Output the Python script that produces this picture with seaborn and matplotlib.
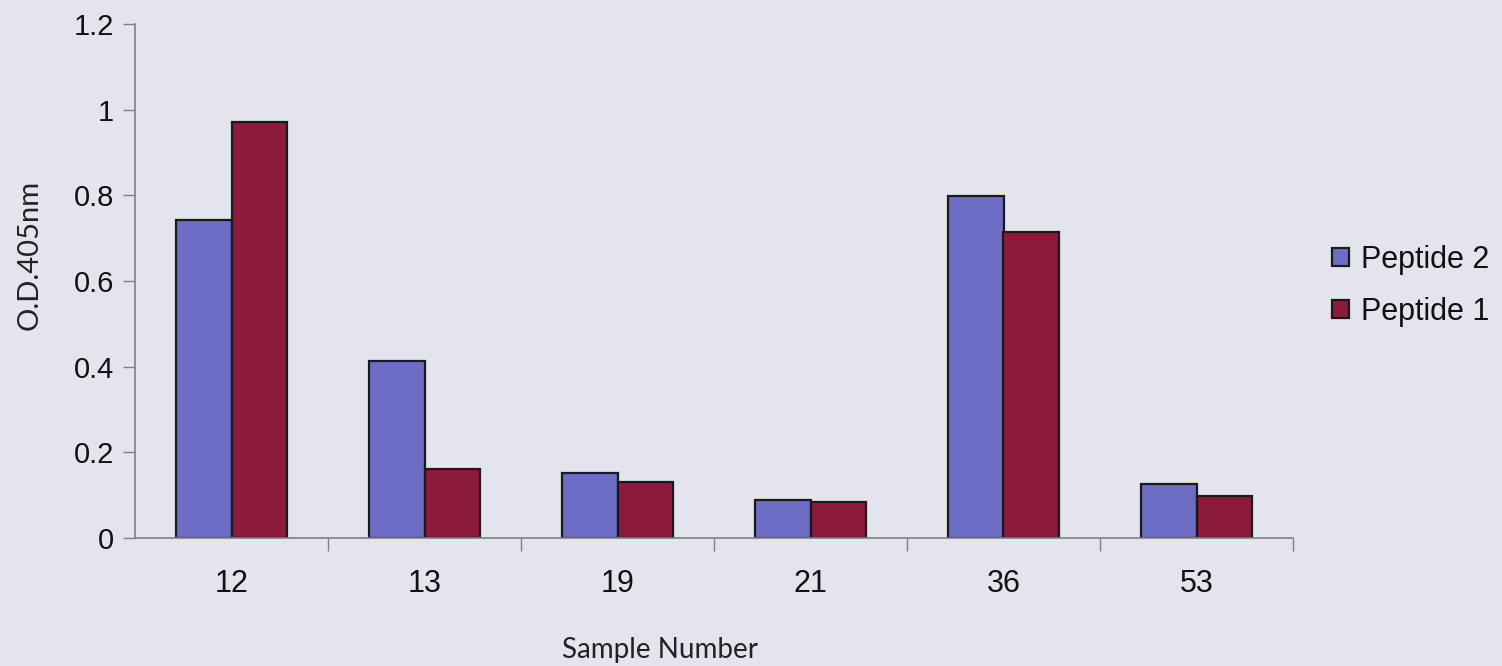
import matplotlib
matplotlib.use("Agg")
import matplotlib.pyplot as plt
import seaborn as sns
import pandas as pd
import numpy as np

samples = ["12", "13", "19", "21", "36", "53"]
peptide2 = [0.742, 0.414, 0.152, 0.088, 0.798, 0.127]
peptide1 = [0.972, 0.160, 0.131, 0.083, 0.715, 0.099]
series = ["Peptide 2", "Peptide 1"]
y_ticks = [0, 0.2, 0.4, 0.6, 0.8, 1.0, 1.2]
y_tick_labels = ["0", "0.2", "0.4", "0.6", "0.8", "1", "1.2"]

df = pd.DataFrame({
    "Sample": samples * 2,
    "OD": peptide2 + peptide1,
    "Peptide": [series[0]] * len(samples) + [series[1]] * len(samples),
})

bg = "#e4e4ee"
sns.set_theme(style="white")
plt.rcParams["font.family"] = ["Liberation Sans", "DejaVu Sans"]

fig = plt.figure(figsize=(15.02, 6.66), dpi=100, facecolor=bg)
ax = fig.add_axes([135 / 1502, (666 - 538) / 666, (1293 - 135) / 1502, (538 - 24) / 666])
ax.set_facecolor(bg)

sns.barplot(
    data=df, x="Sample", y="OD", hue="Peptide", hue_order=series,
    order=samples, palette=["#6d6dc6", "#8b1a3c"], saturation=1,
    width=0.58, edgecolor="#1a1a1a", linewidth=1.6, ax=ax,
)

ax.set_ylim(0, 1.2)
ax.set_xlim(-0.5, len(samples) - 0.5)
ax.set_yticks(y_ticks)
ax.set_yticklabels(y_tick_labels)

# category labels at the centres, tick marks at the boundaries
ax.set_xticks(range(len(samples)))
ax.set_xticklabels(samples)
ax.tick_params(axis="x", which="major", length=0, pad=22, labelsize=22, labelcolor="#111111")
ax.set_xticks(np.arange(0.5, len(samples), 1.0), minor=True)
ax.tick_params(axis="x", which="minor", bottom=True, length=9, width=1, color="#808080", direction="out")
ax.tick_params(axis="y", left=True, length=9, width=1, color="#808080", direction="out",
               pad=6, labelsize=21, labelcolor="#111111")

for side in ["top", "right"]:
    ax.spines[side].set_visible(False)
for side in ["left", "bottom"]:
    ax.spines[side].set_color("#808080")
    ax.spines[side].set_linewidth(1.2)

ax.set_xlabel("Sample Number", family=["Lato", "DejaVu Sans"], fontsize=20, color="#222222")
ax.xaxis.set_label_coords((660 - 135) / 1158, (538 - 637) / 514)
ax.set_ylabel("O.D.405nm", family=["Lato", "DejaVu Sans"], fontsize=21, color="#222222")
ax.yaxis.set_label_coords((43 - 135) / 1158, (538 - 255) / 514)

handles, labels = ax.get_legend_handles_labels()
leg = ax.legend(
    handles, labels, loc="center left", bbox_to_anchor=(1320 / 1502, 1 - 286 / 666),
    bbox_transform=fig.transFigure, frameon=False, fontsize=22,
    handlelength=0.55, handleheight=0.55, handletextpad=0.4, labelspacing=0.72,
    borderaxespad=0,
)
for t in leg.get_texts():
    t.set_color("#111111")

fig.savefig("out.png", dpi=100, facecolor=bg)
